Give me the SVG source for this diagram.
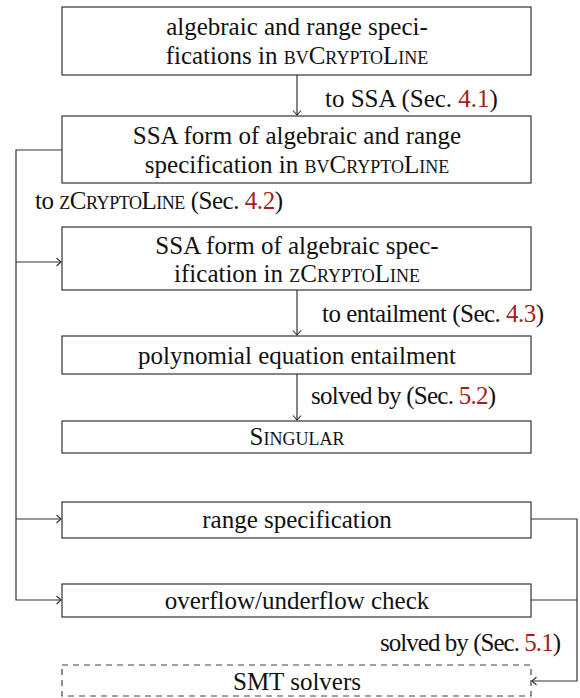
<svg xmlns="http://www.w3.org/2000/svg" width="580" height="698" viewBox="0 0 580 698" font-family="'Liberation Serif','DejaVu Serif',serif">
<style>
text{font-family:"Liberation Serif","DejaVu Serif",serif;font-size:25px;fill:#111}
.c{text-anchor:middle}
.sc{font-variant:small-caps}
.r{fill:#a51d1d}
.box{fill:#fff;stroke:#333;stroke-width:1.2}
.dash{fill:#fff;stroke:#444;stroke-width:1.2;stroke-dasharray:6 5}
.ln{fill:none;stroke:#333;stroke-width:1.2}
</style>
<defs>
<marker id="ah" viewBox="-6 -5 8 10" markerWidth="8" markerHeight="10" refX="0" refY="0" orient="auto" markerUnits="userSpaceOnUse">
<path d="M-4.5,-4 Q-1,-1 0,0 Q-1,1 -4.5,4" fill="none" stroke="#333" stroke-width="1.1"/>
</marker>
</defs>
<g id="connectors">
<line class="ln" x1="297" y1="75" x2="297" y2="115" marker-end="url(#ah)"/>
<line class="ln" x1="297" y1="290" x2="297" y2="335" marker-end="url(#ah)"/>
<line class="ln" x1="297" y1="374" x2="297" y2="420" marker-end="url(#ah)"/>
<polyline class="ln" points="62,150 16,150 16,600 61,600" marker-end="url(#ah)"/>
<line class="ln" x1="16" y1="262" x2="61" y2="262" marker-end="url(#ah)"/>
<line class="ln" x1="16" y1="519" x2="61" y2="519" marker-end="url(#ah)"/>
<polyline class="ln" points="531,519 577,519 577,681 532,681" marker-end="url(#ah)"/>
<line class="ln" x1="531" y1="600" x2="577" y2="600"/>
<text x="325" y="107">to SSA (Sec. <tspan class="r">4.1</tspan>)</text>
<text x="35" y="209" textLength="248">to <tspan class="sc">zCryptoLine</tspan> (Sec. <tspan class="r">4.2</tspan>)</text>
<text x="322" y="322" textLength="222">to entailment (Sec. <tspan class="r">4.3</tspan>)</text>
<text x="311" y="404" textLength="185">solved by (Sec. <tspan class="r">5.2</tspan>)</text>
<text x="380" y="651" textLength="181">solved by (Sec. <tspan class="r">5.1</tspan>)</text>
</g>
<g id="n1">
<rect class="box" x="62" y="7" width="469" height="68"/>
<text class="c" x="297" y="35">algebraic and range speci-</text>
<text class="c" x="297" y="64">fications in <tspan class="sc">bvCryptoLine</tspan></text>
</g>
<g id="n2">
<rect class="box" x="62" y="116" width="469" height="67"/>
<text class="c" x="297" y="144">SSA form of algebraic and range</text>
<text class="c" x="297" y="173">specification in <tspan class="sc">bvCryptoLine</tspan></text>
</g>
<g id="n3">
<rect class="box" x="62" y="227" width="469" height="63"/>
<text class="c" x="297" y="254">SSA form of algebraic spec-</text>
<text class="c" x="297" y="282">ification in <tspan class="sc">zCryptoLine</tspan></text>
</g>
<g id="n4">
<rect class="box" x="62" y="336" width="469" height="38"/>
<text class="c" x="297" y="364">polynomial equation entailment</text>
</g>
<g id="n5">
<rect class="box" x="62" y="421" width="469" height="32"/>
<text class="c" x="297" y="445"><tspan class="sc">Singular</tspan></text>
</g>
<g id="n6">
<rect class="box" x="62" y="502" width="469" height="36"/>
<text class="c" x="297" y="528">range specification</text>
</g>
<g id="n7">
<rect class="box" x="62" y="584" width="469" height="33"/>
<text class="c" x="297" y="609">overflow/underflow check</text>
</g>
<g id="n8">
<rect class="dash" x="62" y="665" width="469" height="31"/>
<text class="c" x="297" y="690">SMT solvers</text>
</g>
</svg>
